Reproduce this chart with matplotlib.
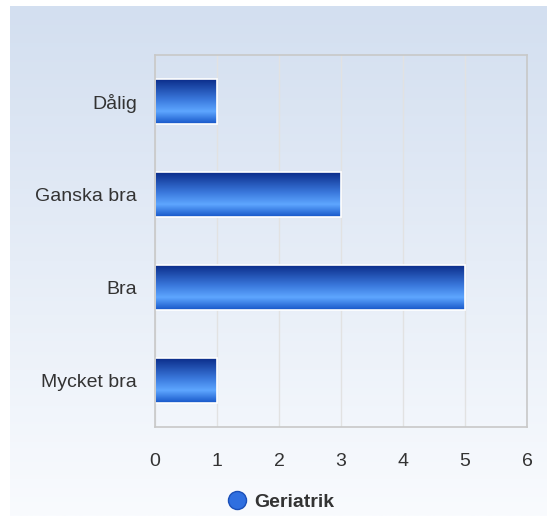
import numpy as np
import matplotlib.pyplot as plt
from matplotlib.colors import LinearSegmentedColormap
from matplotlib.lines import Line2D

plt.rcParams['font.family'] = ['Liberation Sans', 'DejaVu Sans']

# данные
categories = ["Dålig", "Ganska bra", "Bra", "Mycket bra"]
values = [1, 3, 5, 1]
series_name = "Geriatrik"
xticks = [0, 1, 2, 3, 4, 5, 6]

W, H = 547, 516
fig = plt.figure(figsize=(W / 100, H / 100), dpi=100)
fig.patch.set_facecolor("white")

# фон с градиентом
bg = fig.add_axes([10 / W, 0, (W - 10) / W, (H - 6) / H], zorder=0)
bg_cmap = LinearSegmentedColormap.from_list("bg", ["#d3dff0", "#f9fbfe"])
bg.imshow(np.linspace(0, 1, 256).reshape(-1, 1), aspect="auto", cmap=bg_cmap,
          extent=[0, 1, 0, 1], origin="upper")
bg.axis("off")

ax = fig.add_axes([155 / W, (H - 427) / H, 372 / W, 372 / H], zorder=1)
ax.patch.set_alpha(0)

ypos = np.arange(len(categories))
bars = ax.barh(ypos, values, height=0.48, color="none", edgecolor="white",
               linewidth=1.2, zorder=3)

bar_cmap = LinearSegmentedColormap.from_list(
    "bar", [(0, "#0b2d8a"), (0.45, "#3a78dc"), (0.72, "#5ea6ff"), (1, "#1656c8")])
grad = np.linspace(0, 1, 128).reshape(-1, 1)
for b in bars:
    x0, y0 = b.get_x(), b.get_y()
    w, h = b.get_width(), b.get_height()
    im = ax.imshow(grad, aspect="auto", cmap=bar_cmap,
                   extent=[x0, x0 + w, y0 + h, y0], origin="upper", zorder=2)
    im.set_clip_path(b)

ax.set_xlim(0, 6)
ax.set_ylim(len(categories) - 0.5, -0.5)
ax.set_xticks(xticks)
ax.set_yticks(ypos)
ax.set_yticklabels(categories)
ax.grid(axis="x", color="#e2e2e2", linewidth=1, zorder=1)
ax.set_axisbelow(True)
ax.tick_params(length=0, labelsize=14, labelcolor="#333333")
ax.tick_params(axis="x", pad=19)
ax.tick_params(axis="y", pad=13)
for s in ax.spines.values():
    s.set_color("#c8c8c8")
    s.set_linewidth(1.2)
    s.set_zorder(4)

handle = Line2D([], [], marker="o", linestyle="none", markersize=13,
                markerfacecolor="#2f6fe0", markeredgecolor="#1a4fb8")
leg = fig.legend([handle], [series_name], loc="center",
                 bbox_to_anchor=(281 / W, 1 - 502 / H), frameon=False,
                 handlelength=1.0, handletextpad=0.4,
                 prop={"weight": "bold", "size": 14})
for t in leg.get_texts():
    t.set_color("#333333")

fig.savefig("out.png", dpi=100)
